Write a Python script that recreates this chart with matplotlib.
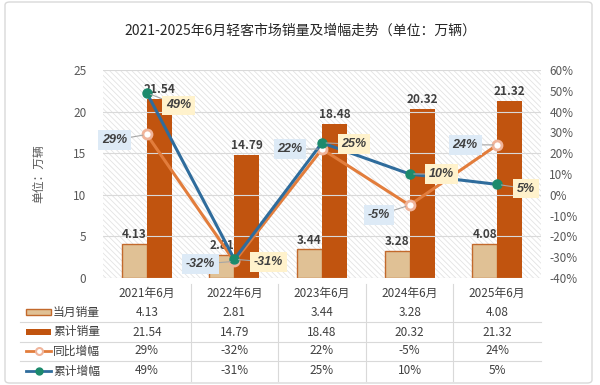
import matplotlib
matplotlib.use("Agg")
import matplotlib.pyplot as plt
from matplotlib.patches import Rectangle, FancyBboxPatch
from matplotlib.lines import Line2D
import matplotlib.transforms as mtransforms
import numpy as np

plt.rcParams['font.family'] = ['Noto Sans CJK SC', 'DejaVu Sans']
plt.rcParams['hatch.linewidth'] = 0.6
plt.rcParams['hatch.color'] = '#E3E3E3'

# data
categories = ['2021年6月', '2022年6月', '2023年6月', '2024年6月', '2025年6月']
monthly_sales = [4.13, 2.81, 3.44, 3.28, 4.08]
cumulative_sales = [21.54, 14.79, 18.48, 20.32, 21.32]
yoy_growth = [29, -32, 22, -5, 24]
cumulative_growth = [49, -31, 25, 10, 5]
row_names = ['当月销量', '累计销量', '同比增幅', '累计增幅']

# colours
C_LIGHT = '#E0C195'
C_LIGHT_EDGE = '#C2692C'
C_DARK = '#C1540F'
C_ORANGE = '#E27D3C'
C_BLUE = '#2F6C9C'
C_TEAL = '#1C8A6C'
C_TEXT = '#404040'
C_GREY = '#595959'

# label offsets (pixels) for the percent labels
yoy_dy = [-4, -2, 0, -7, 0]
cum_dy = [-9, -2, -1, 0, -3]

fig = plt.figure(figsize=(6, 3.85), dpi=100)
W, H = 600, 385
fig.patches.append(FancyBboxPatch((5 / W, 2 / H), 587 / W, 381 / H,
                                  boxstyle='round,pad=0,rounding_size=0.008',
                                  transform=fig.transFigure, fc='white',
                                  ec='#D9D9D9', lw=1, zorder=-10))

ax = fig.add_axes([103 / W, 107 / H, 438 / W, 208 / H])
ax.set_facecolor('none')
x = np.arange(len(categories))
bw = 0.285

ax.add_patch(Rectangle((0, 0), 1, 1, transform=ax.transAxes, fc='white',
                       ec='#E3E3E3', hatch='\\\\\\\\\\\\', lw=0, zorder=0))
ax.set_xlim(-0.5, len(categories) - 0.5)
ax.set_ylim(0, 25)
ax.set_yticks(np.arange(0, 26, 5))
ax.yaxis.grid(True, color='#D9D9D9', lw=0.8, zorder=1)
ax.set_axisbelow(False)
for s in ax.spines.values():
    s.set_visible(False)
ax.tick_params(axis='y', length=0, labelsize=8.5, labelcolor=C_GREY, pad=12)
ax.tick_params(axis='x', length=0, labelbottom=False)
ax.set_ylabel('单位：万辆', fontsize=8.5, color=C_GREY, labelpad=20)

b1 = ax.bar(x - bw / 2, monthly_sales, bw, color=C_LIGHT, edgecolor=C_LIGHT_EDGE,
            lw=1, zorder=2)
b2 = ax.bar(x + bw / 2, cumulative_sales, bw, color=C_DARK, zorder=2)
ax.bar_label(b1, labels=[f'{v:.2f}' for v in monthly_sales], padding=2,
             fontsize=8.5, fontweight='bold', color=C_TEXT)
ax.bar_label(b2, labels=[f'{v:.2f}' for v in cumulative_sales], padding=2,
             fontsize=8.5, fontweight='bold', color=C_TEXT)

ax2 = ax.twinx()
ax2.set_ylim(-40, 60)
ax2.set_yticks(np.arange(-40, 61, 10))
ax2.set_yticklabels([f'{v}%' for v in range(-40, 61, 10)])
for s in ax2.spines.values():
    s.set_visible(False)
ax2.tick_params(axis='y', length=0, labelsize=8.5, labelcolor=C_GREY, pad=6)

ax2.plot(x, yoy_growth, color=C_ORANGE, lw=2.2, marker='o', ms=6.5,
         mfc='white', mec='#F0B49A', mew=2, zorder=3)
ax2.plot(x, cumulative_growth, color=C_BLUE, lw=2.2, marker='o', ms=6.5,
         mfc=C_TEAL, mec=C_TEAL, zorder=4)

lab_font = ['Liberation Sans', 'DejaVu Sans']
for i in range(len(categories)):
    ax2.annotate(f'{yoy_growth[i]}%', (x[i], yoy_growth[i]),
                 xytext=(-14, yoy_dy[i]), textcoords='offset points', ha='right',
                 va='center', fontsize=9, fontweight='bold', style='italic',
                 family=lab_font, color=C_TEXT, zorder=6,
                 bbox=dict(boxstyle='square,pad=0.3', fc='#DDEAF6', ec='none'),
                 arrowprops=dict(arrowstyle='-', color='#A6A6A6', lw=0.8,
                                 shrinkA=0, shrinkB=3))
    ax2.annotate(f'{cumulative_growth[i]}%', (x[i], cumulative_growth[i]),
                 xytext=(14, cum_dy[i]), textcoords='offset points', ha='left',
                 va='center', fontsize=9, fontweight='bold', style='italic',
                 family=lab_font, color=C_TEXT, zorder=6,
                 bbox=dict(boxstyle='square,pad=0.3', fc='#FFF2CC', ec='none'),
                 arrowprops=dict(arrowstyle='-', color='#A6A6A6', lw=0.8,
                                 shrinkA=0, shrinkB=3))

fig.text(0.5, 1 - 31 / H, '2021-2025年6月轻客市场销量及增幅走势（单位：万辆）',
         ha='center', va='center', fontsize=10, color='#262626')

# data table below the plot
trans = mtransforms.blended_transform_factory(ax.transData, fig.transFigure)
header_y = 1 - 293 / H
row_y = [1 - v / H for v in (312, 332, 351, 371)]
sep_y = [1 - v / H for v in (322, 342, 361)]
for i, c in enumerate(categories):
    fig.text(x[i], header_y, c, transform=trans, ha='center', va='center',
             fontsize=8.5, color=C_TEXT)
rows = [[f'{v:.2f}' for v in monthly_sales],
        [f'{v:.2f}' for v in cumulative_sales],
        [f'{v}%' for v in yoy_growth],
        [f'{v}%' for v in cumulative_growth]]
for r, vals in enumerate(rows):
    for i, v in enumerate(vals):
        fig.text(x[i], row_y[r], v, transform=trans, ha='center', va='center',
                 fontsize=8.5, color=C_TEXT)
for yy in sep_y:
    fig.add_artist(Line2D([20 / W, 541 / W], [yy, yy], color='#D9D9D9', lw=0.8))
for i in range(len(categories) - 1):
    fig.add_artist(Line2D([x[i] + 0.5, x[i] + 0.5], [1 - 284 / H, 1 - 381 / H],
                          transform=trans, color='#D9D9D9', lw=0.8))

# legend keys in the table
kx0, kx1 = 26 / W, 51 / W
kh = 6 / H
fig.patches.append(Rectangle((kx0, row_y[0] - kh / 2), kx1 - kx0, kh,
                             transform=fig.transFigure, fc=C_LIGHT,
                             ec=C_LIGHT_EDGE, lw=1))
fig.patches.append(Rectangle((kx0, row_y[1] - kh / 2), kx1 - kx0, kh,
                             transform=fig.transFigure, fc=C_DARK, ec='none'))
fig.add_artist(Line2D([kx0, kx1], [row_y[2]] * 2, color=C_ORANGE, lw=2))
fig.add_artist(Line2D([(kx0 + kx1) / 2], [row_y[2]], marker='o', ms=5,
                      mfc='white', mec='#F0B49A', mew=1.5, lw=0))
fig.add_artist(Line2D([kx0, kx1], [row_y[3]] * 2, color=C_BLUE, lw=2))
fig.add_artist(Line2D([(kx0 + kx1) / 2], [row_y[3]], marker='o', ms=5,
                      mfc=C_TEAL, mec=C_TEAL, lw=0))
for r, name in enumerate(row_names):
    fig.text(53 / W, row_y[r], name, ha='left', va='center', fontsize=8.5,
             color=C_TEXT)

fig.savefig('out.png', dpi=100)
